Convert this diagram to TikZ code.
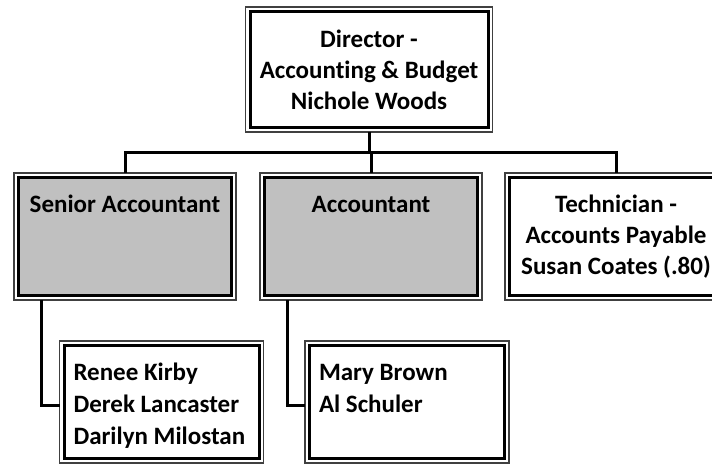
\documentclass[tikz,border=0pt]{standalone}
\usepackage{fontspec}
\setmainfont{Carlito}[Ligatures=NoCommon]
\usetikzlibrary{calc}
\definecolor{boxgray}{HTML}{C0C0C0}
\begin{document}
\begin{tikzpicture}[x=1pt,y=-1pt,line join=miter,thick]
\tikzset{every node/.style={font=\bfseries\fontsize{25}{31}\selectfont}}
\tikzset{orgbox/.style={draw,line width=3pt,inner sep=0pt,outer sep=4.5pt,align=center}}
\tikzset{postbox/.style={orgbox,fill=boxgray,minimum width=213pt,text height=35pt,text depth=83pt}}
\tikzset{namebox/.style={orgbox,align=flush left,font=\bfseries\fontsize{25}{32}\selectfont,inner xsep=9.5pt,text width=176pt,text height=35pt,text depth=78pt}}
\tikzset{rim/.style={draw=black!75,line width=1.2pt}}
\tikzset{link/.style={line width=3pt}}
\useasboundingbox (0,0) rectangle (712,465);
\node[orgbox,minimum width=238pt,minimum height=116pt] (dir) at (369,69.5) {Director -\\Accounting \& Budget\\Nichole Woods};
\node[postbox] (sen) at (125,236.5) {Senior Accountant};
\node[postbox] (acc) at (371,236.5) {Accountant};
\node[orgbox,minimum width=213pt,minimum height=118pt] (tech) at (616,236.5) {Technician -\\Accounts Payable\\Susan Coates (.80)};
\node[namebox] (rk) at (161.5,402) {Renee Kirby\\Derek Lancaster\\Darilyn Milostan};
\node[namebox] (mb) at (407,402) {Mary Brown\\Al Schuler};
\foreach \n in {dir,sen,acc,tech,rk,mb}
{
\draw[rim] (\n.south west) rectangle (\n.north east);
}
\coordinate (bus) at ($(dir.south)+(0,21)$);
\draw[link] (dir.south) -- (bus);
\draw[link] (sen.north) |- (bus) -| (tech.north);
\draw[link] (bus -| acc.north) -- (acc.north);
\draw[link] ([xshift=27pt]sen.south west) |- ([yshift=-3pt]rk.west);
\draw[link] ([xshift=27pt]acc.south west) |- ([yshift=-3pt]mb.west);
\end{tikzpicture}
\end{document}
